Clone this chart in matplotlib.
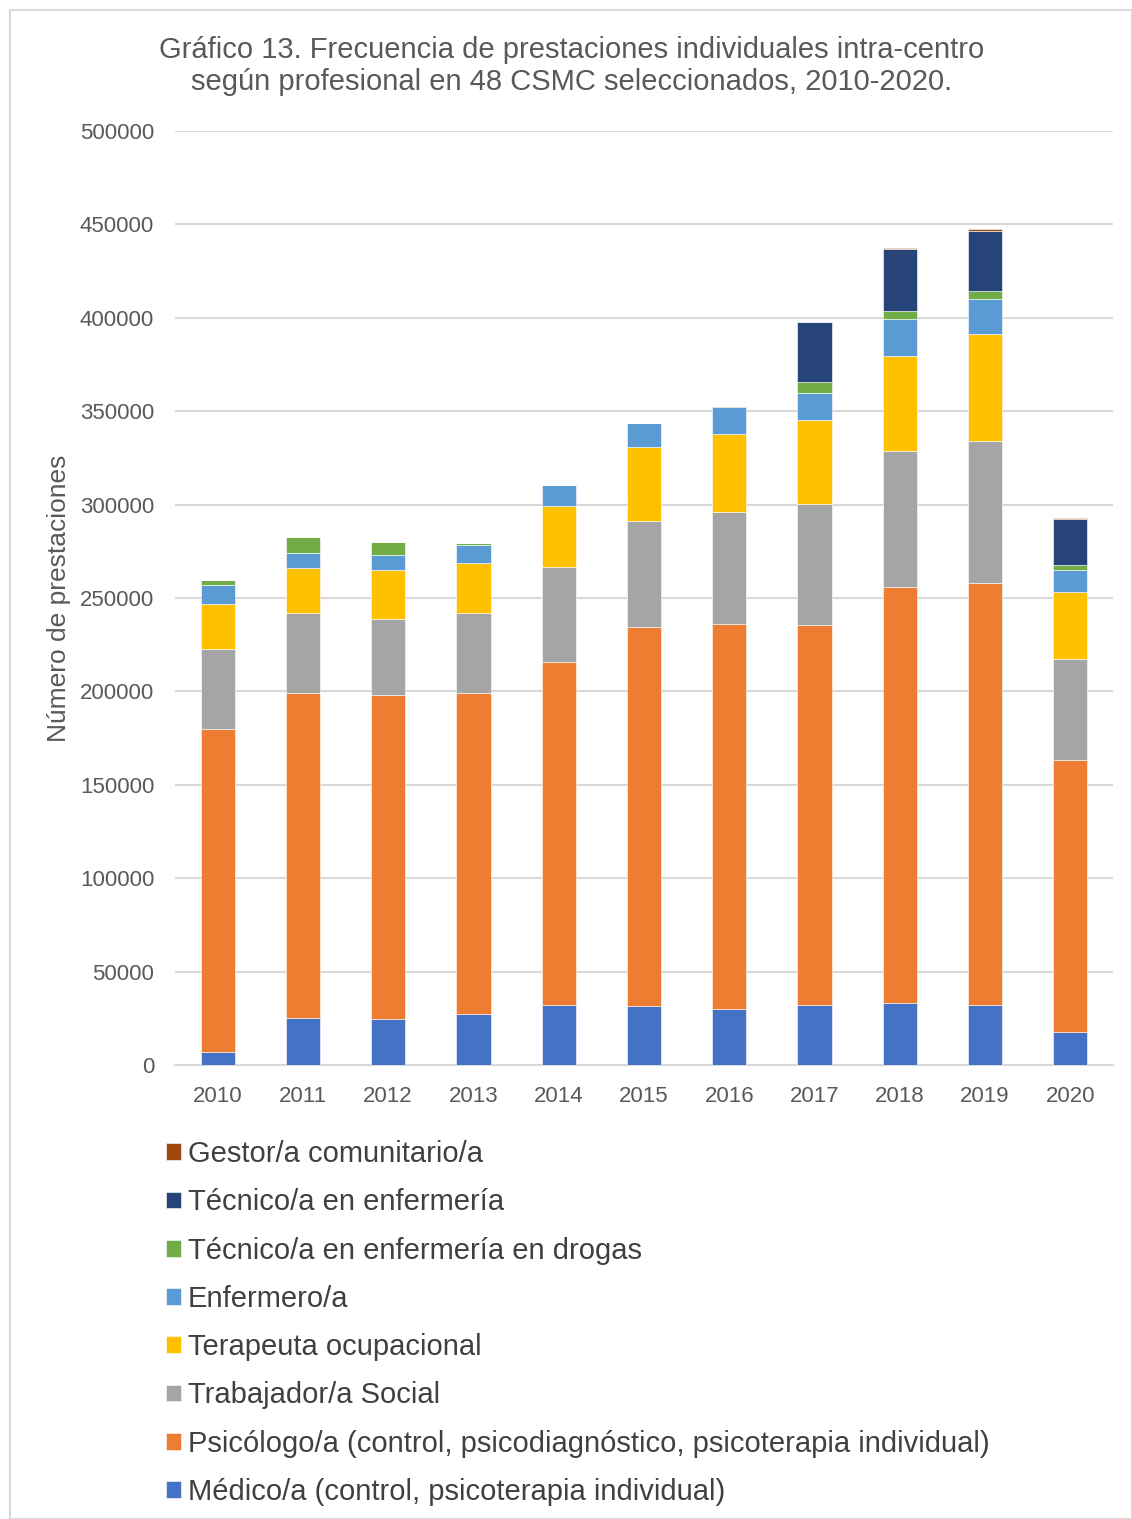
import matplotlib.pyplot as plt
from matplotlib.patches import Rectangle

plt.rcParams['font.family'] = ['Liberation Sans', 'DejaVu Sans']

years = ["2010", "2011", "2012", "2013", "2014", "2015",
         "2016", "2017", "2018", "2019", "2020"]

medico = [6800, 25000, 24800, 27100, 32000, 31400, 29800, 32000, 33200, 32000, 17500]
psicologo = [172900, 174000, 173400, 171900, 183700, 202900, 206400, 203500, 222800, 226200, 145800]
trabajador = [42800, 42800, 40400, 42800, 50700, 57100, 60000, 65000, 72800, 75700, 53900]
terapeuta = [24300, 24400, 26400, 27100, 32800, 39300, 41700, 44800, 50700, 57600, 36200]
enfermero = [10000, 7700, 8200, 9600, 11100, 13000, 14500, 14400, 19700, 18700, 11400]
tec_drogas = [2800, 8700, 6800, 1100, 300, 0, 300, 5900, 4600, 4300, 2700]
tec_enf = [0, 0, 0, 0, 0, 0, 0, 32100, 33200, 32100, 24600]
gestor = [0, 0, 0, 0, 0, 0, 0, 0, 500, 800, 700]

series = [
    ("Médico/a (control, psicoterapia individual)", medico, "#4472C4"),
    ("Psicólogo/a (control, psicodiagnóstico, psicoterapia individual)", psicologo, "#ED7D31"),
    ("Trabajador/a Social", trabajador, "#A5A5A5"),
    ("Terapeuta ocupacional", terapeuta, "#FFC000"),
    ("Enfermero/a", enfermero, "#5B9BD5"),
    ("Técnico/a en enfermería en drogas", tec_drogas, "#70AD47"),
    ("Técnico/a en enfermería", tec_enf, "#264478"),
    ("Gestor/a comunitario/a", gestor, "#9E480E"),
]

txt = "#595959"
fig = plt.figure(figsize=(11.32, 15.19), dpi=100)
ax = fig.add_axes([175 / 1132, 1 - 1065 / 1519, 938 / 1132, 934 / 1519])

x = list(range(len(years)))
bottom = [0] * len(years)
handles = []
for label, vals, color in series:
    b = ax.bar(x, vals, width=0.4, bottom=bottom, color=color,
               edgecolor="white", linewidth=0.4, label=label, zorder=3)
    handles.append(b)
    bottom = [s + v for s, v in zip(bottom, vals)]

ax.set_xlim(-0.5, len(years) - 0.5)
ax.set_ylim(0, 500000)
ax.set_yticks(range(0, 500001, 50000))
ax.set_xticks(x)
ax.set_xticklabels(years)
ax.yaxis.grid(True, color="#D9D9D9", linewidth=1.5, zorder=0)
ax.tick_params(axis="both", length=0, labelsize=16, colors=txt)
ax.tick_params(axis="x", pad=15)
ax.tick_params(axis="y", pad=15)
for side in ["top", "right", "left"]:
    ax.spines[side].set_visible(False)
ax.spines["bottom"].set_color("#D9D9D9")
ax.spines["bottom"].set_linewidth(1.5)

ax.set_ylabel("Número de prestaciones", fontsize=19, color=txt, labelpad=6)

fig.text(0.505, 1 - 66 / 1519,
         "Gráfico 13. Frecuencia de prestaciones individuales intra-centro\n"
         "según profesional en 48 CSMC seleccionados, 2010-2020.",
         ha="center", va="center", fontsize=21, color=txt, linespacing=1.15)

leg = fig.legend(handles[::-1], [s[0] for s in series][::-1],
                 loc="upper left", bbox_to_anchor=(166 / 1132, 1 - 1140 / 1519),
                 frameon=False, fontsize=21, handlelength=0.5, handleheight=0.5,
                 handletextpad=0.25, labelspacing=0.695, borderpad=0,
                 borderaxespad=0)
for t in leg.get_texts():
    t.set_color("#404040")

# marco exterior del grafico
fig.patches.append(Rectangle((10 / 1132, 0), 1 - 10 / 1132, 1 - 10 / 1519,
                             transform=fig.transFigure, fill=False,
                             edgecolor="#D9D9D9", linewidth=1.5))

fig.savefig("out.png", dpi=100)
plt.close(fig)
